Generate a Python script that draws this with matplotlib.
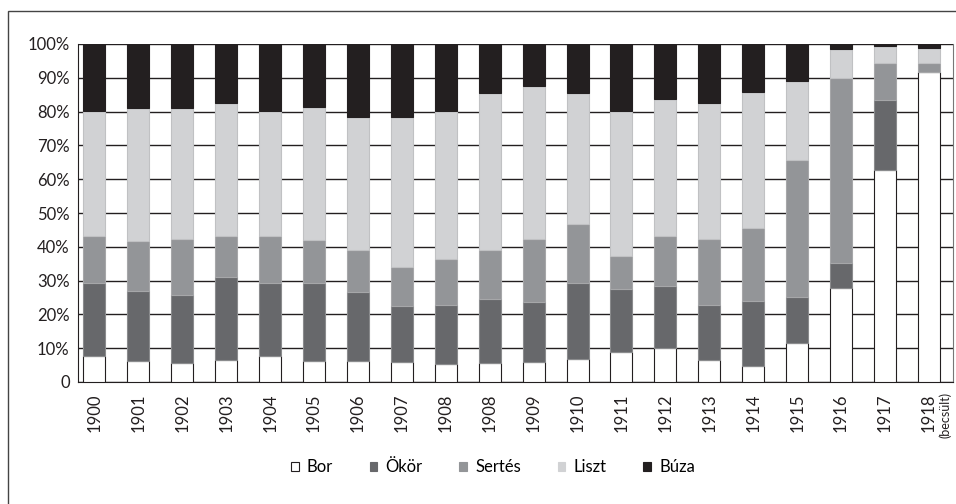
import matplotlib
matplotlib.use("Agg")
import matplotlib.pyplot as plt
from matplotlib.patches import Rectangle, Patch
import numpy as np

plt.rcParams['font.family'] = ['Lato', 'DejaVu Sans']

years = ["1900", "1901", "1902", "1903", "1904", "1905", "1906", "1907", "1908",
         "1908", "1909", "1910", "1911", "1912", "1913", "1914", "1915", "1916",
         "1917", "1918"]
note_last = "(becsült)"
series_names = ["Bor", "Ökör", "Sertés", "Liszt", "Búza"]

bor = [7.7, 6.2, 5.5, 6.5, 7.7, 6.2, 6.2, 5.9, 5.2, 5.7, 6.0, 6.9, 8.9, 10.1, 6.6, 4.8, 11.5, 27.8, 62.8, 91.6]
okor = [21.6, 20.8, 20.2, 24.5, 21.6, 23.1, 20.4, 16.5, 17.6, 18.9, 17.6, 22.4, 18.7, 18.3, 16.3, 19.1, 13.6, 7.3, 20.5, 0.0]
sertes = [14.0, 14.7, 16.6, 12.3, 14.0, 12.8, 12.4, 11.7, 13.5, 14.5, 18.6, 17.3, 9.8, 14.9, 19.4, 21.6, 40.5, 54.9, 11.1, 2.8]
liszt = [36.9, 39.4, 38.8, 39.1, 36.9, 39.3, 39.5, 44.2, 43.9, 46.3, 45.3, 38.8, 42.8, 40.3, 40.1, 40.2, 23.5, 8.5, 4.9, 4.5]
buza = [19.8, 18.9, 18.9, 17.6, 19.8, 18.6, 21.5, 21.7, 19.8, 14.6, 12.5, 14.6, 19.8, 16.4, 17.6, 14.3, 10.9, 1.5, 0.7, 1.1]

colors = ["#ffffff", "#67686b", "#939598", "#d1d2d4", "#231f20"]
edges = ["#231f20", "#8a8b8d", "#a6a7a9", "#c0c1c3", "#231f20"]

fig = plt.figure(figsize=(9.56, 5.04), dpi=100)
ax = fig.add_axes([78/956, 1-382/504, (953-78)/956, (382-44)/504])

# outer frame
fig.patches.append(Rectangle((8/956, -0.1), 1.2, 1.1 - 11/504, transform=fig.transFigure,
                             fill=False, edgecolor="#444444", linewidth=1.0))

x = np.arange(len(years))
data = [bor, okor, sertes, liszt, buza]
bottom = np.zeros(len(years))
handles = []
for vals, name, c, ec in zip(data, series_names, colors, edges):
    v = np.array(vals, dtype=float)
    ax.bar(x, v, bottom=bottom, width=0.5, color=c, edgecolor=ec, linewidth=0.8, zorder=3)
    bottom += v
    handles.append(Patch(facecolor=c, edgecolor="#231f20" if name == "Bor" else c, linewidth=0.8, label=name))

ax.set_ylim(0, 100)
ax.set_xlim(-0.375, 19.55)
ax.set_yticks(np.arange(0, 101, 10))
ax.set_yticklabels(["0"] + [f"{v}%" for v in range(10, 101, 10)], fontsize=12, color="#231f20")
ax.set_xticks(x)
ax.set_xticklabels(years, rotation=90, fontsize=12, color="#231f20")
ax.tick_params(axis="both", length=0, pad=6)
ax.tick_params(axis="x", pad=8)
ax.yaxis.grid(True, color="#231f20", linewidth=1.0, zorder=0)
ax.set_axisbelow(True)
ax.spines["top"].set_visible(False)
ax.spines["left"].set_color("#231f20")
ax.spines["bottom"].set_color("#231f20")
ax.spines["right"].set_color("#777777")

ax.text(19 + 0.38, -0.03, note_last, transform=ax.get_xaxis_transform(), rotation=90,
        ha="center", va="top", fontsize=9, color="#231f20")

fig.legend(handles=handles, loc="center", bbox_to_anchor=(493/956, 1-467/504), ncol=5,
           frameon=False, fontsize=12, handlelength=0.45, handleheight=0.45,
           handletextpad=0.5, columnspacing=2.2)

fig.savefig("out.png", dpi=100)
